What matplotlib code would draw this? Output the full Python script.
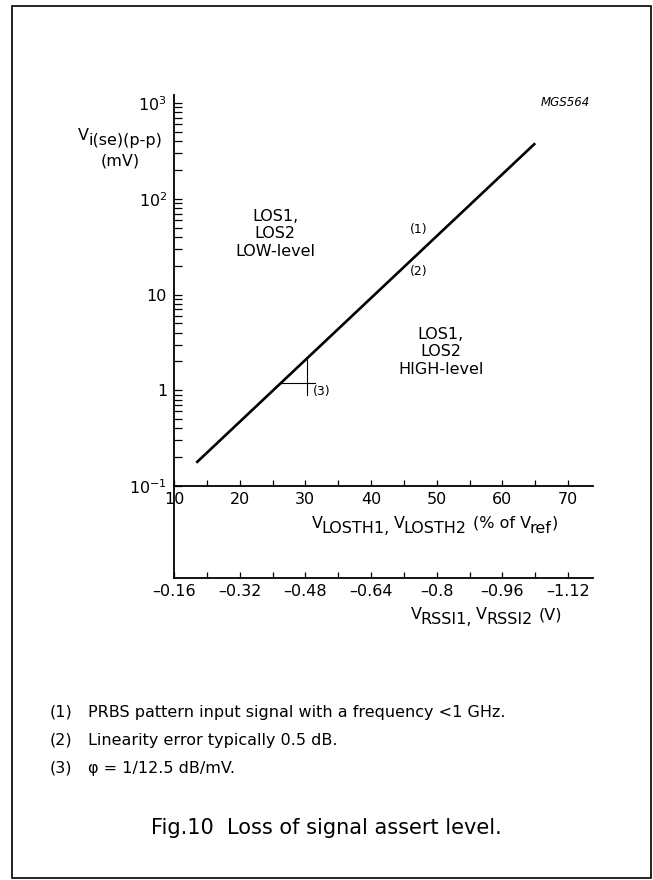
import numpy as np
import matplotlib
matplotlib.use('Agg')
import matplotlib.pyplot as plt
from matplotlib.ticker import FixedLocator, NullFormatter, LogLocator
from matplotlib.patches import Rectangle

plt.rcParams['font.family'] = ['DejaVu Sans']
plt.rcParams['mathtext.fontset'] = 'dejavusans'

# threshold line (% of Vref) vs input level (mV)
pct = [13.4, 65.0]
vin = [0.175, 380]

# slope triangle
tri_h_x = [26.3, 31.5]
tri_h_y = [1.19, 1.19]
tri_v_x = [30.3, 30.3]
tri_v_y = [2.17, 0.89]

x_ticks = [10, 20, 30, 40, 50, 60, 70]
x_minor = [15, 25, 35, 45, 55, 65]
rssi_ticks = [-0.16, -0.32, -0.48, -0.64, -0.8, -0.96, -1.12]
rssi_minor = [-0.24, -0.40, -0.56, -0.72, -0.88, -1.04]
rssi_labels = ['\u20130.16', '\u20130.32', '\u20130.48', '\u20130.64', '\u20130.8', '\u20130.96', '\u20131.12']
y_ticks = [0.1, 1, 10, 100, 1000]
y_labels = [r'$\mathregular{10^{-1}}$', '1', '10', r'$\mathregular{10^{2}}$', r'$\mathregular{10^{3}}$']

notes = ['PRBS pattern input signal with a frequency <1 GHz.',
         'Linearity error typically 0.5 dB.',
         '\u03c6 = 1/12.5 dB/mV.']

FS = 11.5
W, H = 653, 880
fig = plt.figure(figsize=(W / 100, H / 100), dpi=100)
renderer = fig.canvas.get_renderer()

def fx(px):
    return px / W

def fy(py):
    return 1 - py / H

def rich(x, y, parts, ha='left', size=FS):
    # parts: (text, raise_px, gap_before_px); x, y = baseline in pixels
    objs = []
    cur = 0
    for s, dy, gap in parts:
        cur += gap
        t = fig.text(0, 0, s, fontsize=size, ha='left', va='baseline')
        objs.append((t, cur, dy))
        cur += t.get_window_extent(renderer).width
    if ha == 'right':
        x0 = x - cur
    elif ha == 'center':
        x0 = x - cur / 2
    else:
        x0 = x
    for t, off, dy in objs:
        t.set_position((fx(x0 + off), fy(y - dy)))

xmax = 73.8
ax = fig.add_axes([fx(174), fy(486), fx(593) - fx(174), fy(95) - fy(486)])
ax.set_yscale('log')
ax.set_xlim(10, xmax)
ax.set_ylim(0.1, 1213)

ax.plot(pct, vin, color='black', lw=1.9, solid_capstyle='butt')
ax.plot(tri_h_x, tri_h_y, color='black', lw=0.8)
ax.plot(tri_v_x, tri_v_y, color='black', lw=0.8)

for s in ['top', 'right']:
    ax.spines[s].set_visible(False)
ax.spines['left'].set_linewidth(1.3)
ax.spines['bottom'].set_linewidth(1.3)

ax.xaxis.set_major_locator(FixedLocator(x_ticks))
ax.xaxis.set_minor_locator(FixedLocator(x_minor))
ax.set_xticklabels([str(t) for t in x_ticks])
ax.yaxis.set_major_locator(FixedLocator(y_ticks))
ax.yaxis.set_minor_locator(LogLocator(base=10, subs=np.arange(2, 10)))
ax.yaxis.set_minor_formatter(NullFormatter())
ax.set_yticklabels(y_labels)
ax.tick_params(axis='x', which='both', direction='in', length=4, width=0.9, pad=4, labelsize=FS)
ax.tick_params(axis='y', which='both', direction='in', length=6, width=0.9, pad=5, labelsize=FS)
ax.patch.set_visible(False)

ax.text(25.4, 42.9, 'LOS1,\nLOS2\nLOW-level', ha='center', va='center', fontsize=FS, linespacing=1.2)
ax.text(50.6, 2.51, 'LOS1,\nLOS2\nHIGH-level', ha='center', va='center', fontsize=FS, linespacing=1.2)
ax.text(47.3, 47.2, '(1)', ha='center', va='center', fontsize=9)
ax.text(47.3, 17.6, '(2)', ha='center', va='center', fontsize=9)
ax.text(31.1, 0.96, '(3)', ha='left', va='center', fontsize=9)

# second x axis (RSSI voltage)
ax2 = fig.add_axes([fx(174), fy(578), fx(593) - fx(174), fy(486) - fy(578)])
ax2.set_xlim(-0.016 * 10, -0.016 * xmax)
ax2.set_ylim(0, 1)
for s in ['top', 'right']:
    ax2.spines[s].set_visible(False)
ax2.spines['left'].set_linewidth(1.3)
ax2.spines['bottom'].set_linewidth(1.3)
ax2.set_yticks([])
ax2.xaxis.set_major_locator(FixedLocator(rssi_ticks))
ax2.xaxis.set_minor_locator(FixedLocator(rssi_minor))
ax2.set_xticklabels(rssi_labels)
ax2.tick_params(axis='x', which='both', direction='in', length=4, width=0.9, pad=4, labelsize=FS)
ax2.patch.set_visible(False)

# axis titles (subscripts kept full size, as in the original)
rich(120, 145, [('V', 5, 0), ('i(se)(p-p)', 0, -1)], ha='center')
rich(120, 165, [('(mV)', 0, 0)], ha='center')
rich(558, 533, [('V', 5, 0), ('LOSTH1,', 0, -1), ('V', 5, 4), ('LOSTH2', 0, -1),
                ('(% of V', 5, 6), ('ref', 0, -1), (')', 5, 0)], ha='right')
rich(562, 624, [('V', 5, 0), ('RSSI1,', 0, -1), ('V', 5, 4), ('RSSI2', 0, -1),
                ('(V)', 5, 6)], ha='right')
fig.text(fx(590), fy(103), 'MGS564', ha='right', va='center', fontsize=8.5, style='italic')

# footnotes
for i, n in enumerate(notes):
    y = fy(712 + 28 * i)
    fig.text(fx(50), y, '(%d)' % (i + 1), ha='left', va='center', fontsize=FS)
    fig.text(fx(88), y, n, ha='left', va='center', fontsize=FS)

fig.text(0.5, fy(828), 'Fig.10  Loss of signal assert level.', ha='center', va='center', fontsize=15)

# frame
fig.patches.append(Rectangle((fx(12), fy(878)), fx(651) - fx(12), fy(6) - fy(878),
                             transform=fig.transFigure, fill=False, lw=1.2, edgecolor='black'))

fig.savefig('out.png', dpi=100)
